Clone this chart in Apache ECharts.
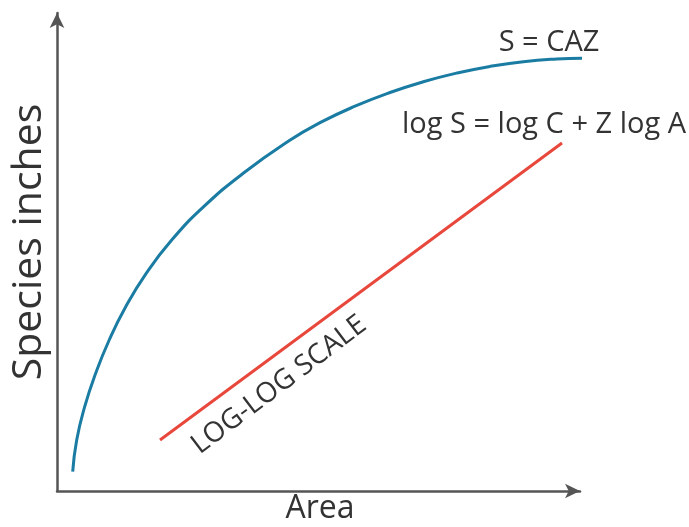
<!DOCTYPE html>
<html>
<head>
<meta charset="utf-8">
<script src="https://cdn.jsdelivr.net/npm/echarts@6/dist/echarts.min.js"></script>
<style>html,body{margin:0;padding:0;background:#fff}#c{width:689px;height:527px}</style>
</head>
<body>
<div id="c"></div>
<script>
// Species-area curve S = C A^Z (arbitrary units)
const curveArea =    [15.7, 19.7, 27.7, 38.7, 52.2, 68.7, 89.2, 114.7, 146.7, 186.2, 233.2, 263.0, 298.0, 333.0, 366.3, 399.7, 433.0, 466.3, 499.7, 525.7];
const curveSpecies = [19.3, 51.0, 84.3, 117.7, 151.0, 184.3, 217.7, 251.0, 284.3, 317.7, 351.0, 368.3, 384.8, 398.5, 409.2, 417.9, 424.6, 429.3, 432.0, 432.8];
// Log-log straight line
const logArea =    [103, 505];
const logSpecies = [51, 348];
const xName = 'Area';
const yName = 'Species inches';
const curveLabel = 'S = CAZ';
const lineLabel = 'log S = log C + Z log A';
const scaleLabel = 'LOG-LOG SCALE';

const font = '"Open Sans", sans-serif';
const chart = echarts.init(document.getElementById('c'));
chart.setOption({
  animation: false,
  grid: {left: 57, right: 109, top: 13, bottom: 36, outerBoundsMode: 'none', containLabel: false},
  xAxis: {
    type: 'value', min: 0, max: 523,
    axisLine: {show: true, symbol: ['none', 'arrow'], symbolSize: [11, 15],
      lineStyle: {color: '#555', width: 2.5}},
    axisTick: {show: false}, axisLabel: {show: false}, splitLine: {show: false}
  },
  yAxis: {
    type: 'value', min: 0, max: 478,
    axisLine: {show: true, symbol: ['none', 'arrow'], symbolSize: [11, 15],
      lineStyle: {color: '#555', width: 2.5}},
    axisTick: {show: false}, axisLabel: {show: false}, splitLine: {show: false}
  },
  series: [
    {
      type: 'line', smooth: 0.5, symbol: 'none', clip: false,
      data: curveArea.map((a, i) => [a, curveSpecies[i]]),
      lineStyle: {color: '#1a7ca2', width: 3}
    },
    {
      type: 'line', symbol: 'none', clip: false,
      data: logArea.map((a, i) => [a, logSpecies[i]]),
      lineStyle: {color: '#e8473c', width: 3}
    }
  ],
  graphic: [
    {type: 'text', x: 549, y: 43, style: {text: curveLabel, fontSize: 29, fill: '#333', fontFamily: font, align: 'center', verticalAlign: 'middle'}},
    {type: 'text', x: 544, y: 125, style: {text: lineLabel, fontSize: 29, fill: '#333', fontFamily: font, align: 'center', verticalAlign: 'middle'}},
    {type: 'text', x: 279, y: 385, rotation: 37 * Math.PI / 180, style: {text: scaleLabel, fontSize: 28, fill: '#333', fontFamily: font, align: 'center', verticalAlign: 'middle'}},
    {type: 'text', x: 29, y: 242, rotation: Math.PI / 2, style: {text: yName, fontSize: 41, fill: '#333', fontFamily: font, align: 'center', verticalAlign: 'middle'}},
    {type: 'text', x: 320, y: 509, style: {text: xName, fontSize: 32, fill: '#333', fontFamily: font, align: 'center', verticalAlign: 'middle'}}
  ]
});
</script>
</body>
</html>
